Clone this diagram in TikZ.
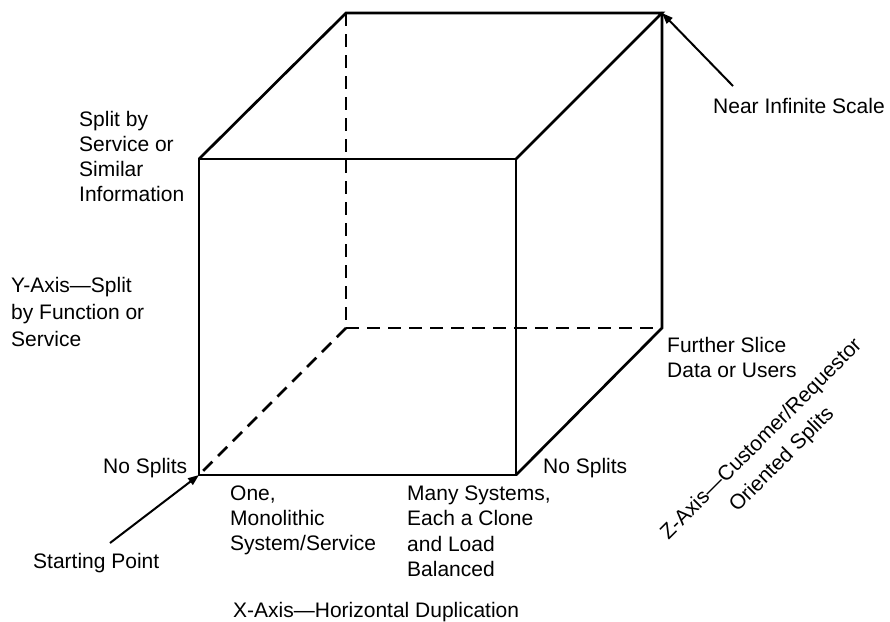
\documentclass[tikz,border=0pt]{standalone}
\usepackage{fontspec}
\setmainfont{Liberation Sans}
\usetikzlibrary{arrows.meta}
\tikzset{
  edge/.style={line width=2.7pt, line cap=round, line join=miter},
  hidden/.style={line width=2.7pt, dash pattern=on 13pt off 8pt},
  pointer/.style={line width=2pt, -{Triangle[length=11pt,width=8pt]}},
  lbl/.style={inner sep=0pt, align=left, anchor=north west, font=\fontsize{21}{25}\selectfont},
  lblone/.style={inner sep=0pt, anchor=base west, font=\fontsize{21}{25}\selectfont},
}
\begin{document}
\begin{tikzpicture}[x=1pt,y=-1pt]
\useasboundingbox (0,0) rectangle (890,621);
% cube corners
\coordinate (ftl) at (199,159);
\coordinate (ftr) at (516,159);
\coordinate (fbl) at (199,475);
\coordinate (fbr) at (516,475);
\coordinate (btl) at (346,13);
\coordinate (btr) at (662,13);
\coordinate (bbl) at (346,328);
\coordinate (bbr) at (662,328);
% hidden edges
\draw[hidden] (btl) -- (bbl);
\draw[hidden] (bbl) -- (bbr);
\draw[hidden] (bbl) -- (fbl);
% visible edges
\draw[edge] (ftl) -- (ftr) -- (fbr) -- (fbl) -- cycle;
\draw[edge] (ftl) -- (btl) -- (btr) -- (ftr);
\draw[edge] (btr) -- (bbr) -- (fbr);
% labels
\node[lbl] (splitby) at (79,108.5) {\strut Split by\\Service or\\Similar\\Information};
\node[lbl, font=\fontsize{21}{27}\selectfont] (yaxis) at (11,273.1) {\strut Y-Axis—Split\\by Function or\\Service};
\node[lblone] (nosplitl) at (103,473) {No Splits};
\node[lbl] (one) at (230,482.5) {\strut One,\\Monolithic\\System/Service};
\node[lbl, font=\fontsize{21}{25.5}\selectfont] (many) at (407,482.2) {\strut Many Systems,\\Each a Clone\\and Load\\Balanced};
\node[lblone] (nosplitr) at (543,473) {No Splits};
\node[lbl] (further) at (667,334.5) {\strut Further Slice\\Data or Users};
\node[lblone] (near) at (713,113) {Near Infinite Scale};
\node[lblone] (start) at (33,568) {Starting Point};
\node[lblone] (xaxis) at (233,617) {X-Axis—Horizontal Duplication};
\node[inner sep=0pt, align=center, rotate=45, font=\fontsize{21}{29}\selectfont] (zaxis) at (772,450) {Z-Axis—Customer/Requestor\\Oriented Splits};
% pointers
\coordinate (startend) at (110,543);
\coordinate (nearend) at (733,86);
\draw[pointer] (startend) -- (fbl);
\draw[pointer] (nearend) -- (btr);
\end{tikzpicture}
\end{document}
